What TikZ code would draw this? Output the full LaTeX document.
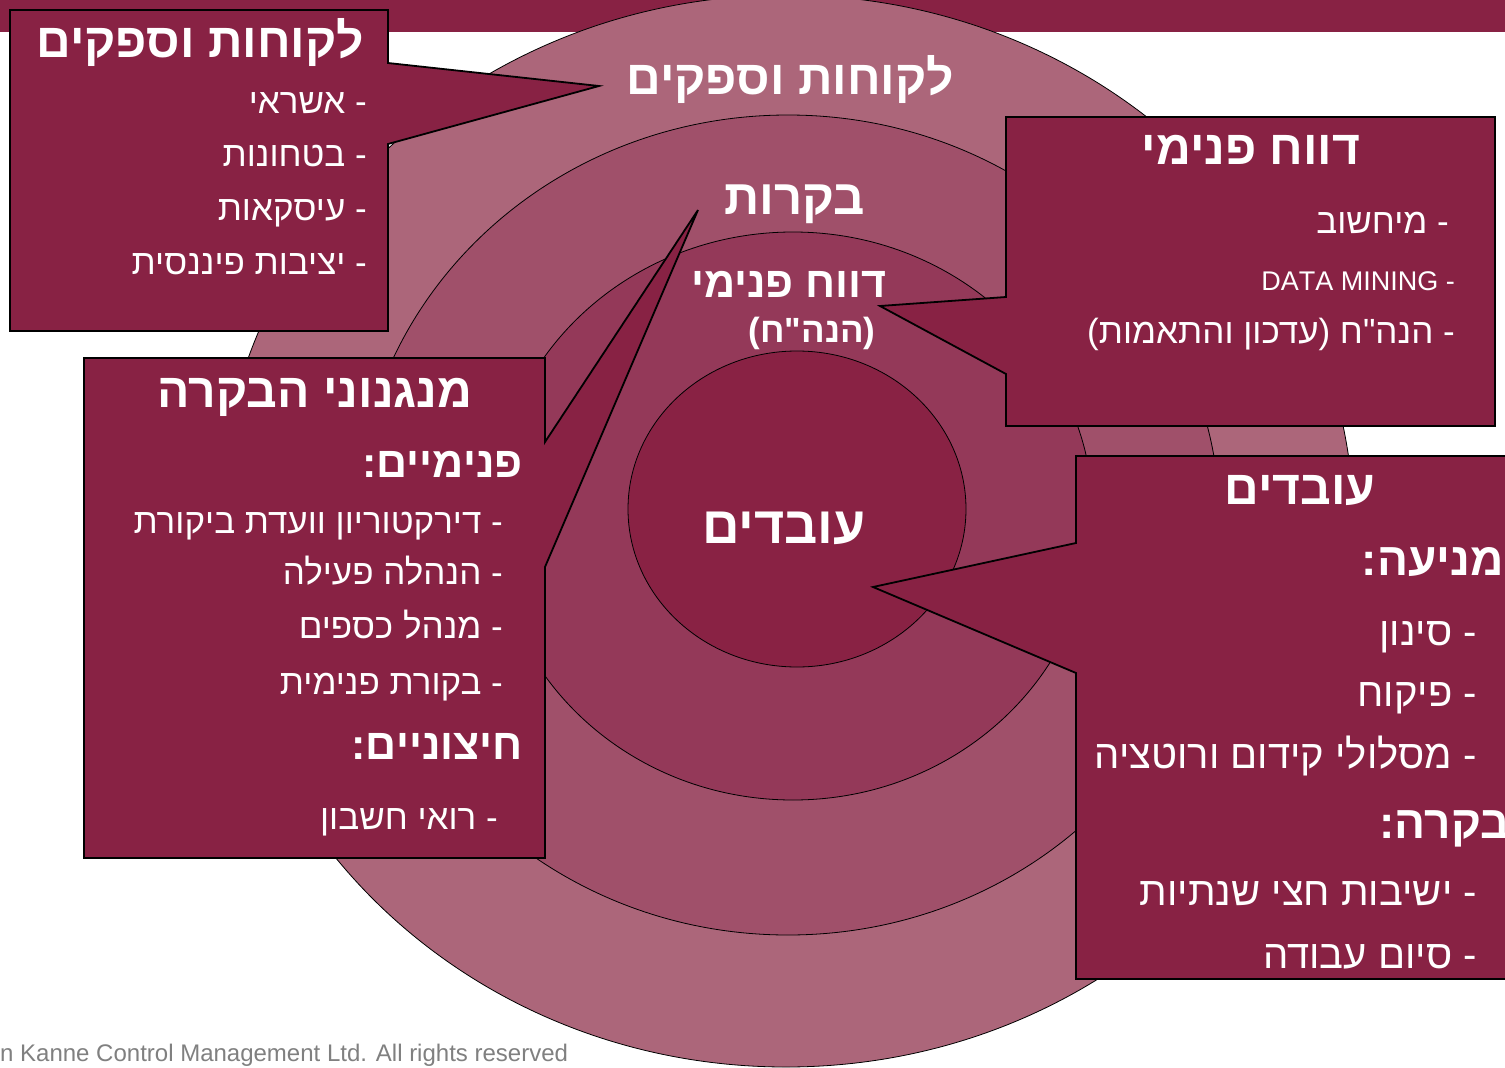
\documentclass[tikz,border=0pt]{standalone}
\usepackage{fontspec}
\setmainfont{Liberation Sans}
\newfontfamily\heb[Script=Hebrew]{Liberation Sans}
\TeXXeTstate=1
\newcommand\rtl[1]{\beginR #1\endR}
\definecolor{burg}{RGB}{136,34,68}
\definecolor{ringA}{RGB}{172,102,122}
\definecolor{ringB}{RGB}{160,80,106}
\definecolor{ringC}{RGB}{148,57,89}
\definecolor{ringD}{RGB}{137,34,68}
\definecolor{footgray}{RGB}{128,128,128}
\tikzset{
  ring/.style={draw=black, line width=0.8pt},
  callout/.style={fill=burg, draw=black, line width=1.8pt, line join=miter},
  itemtxt/.style={text=white, inner sep=0pt, anchor=base east, font=\heb\fontsize{35}{40}\selectfont},
  bigitemtxt/.style={itemtxt, font=\heb\fontsize{40}{44}\selectfont},
  subtxt/.style={text=white, inner sep=0pt, anchor=base east, font=\heb\bfseries\fontsize{43}{48}\selectfont},
  titletxt/.style={text=white, inner sep=0pt, anchor=base, font=\heb\bfseries\fontsize{48}{54}\selectfont},
  centertxt/.style={text=white, inner sep=0pt, anchor=base, font=\heb\bfseries\fontsize{48}{54}\selectfont},
}
\begin{document}
\begin{tikzpicture}[x=1pt,y=-1pt]
\useasboundingbox (0,0) rectangle (1505,1068);
\fill[white] (0,0) rectangle (1505,1068);
% top bar
\fill[burg] (0,0) rectangle (1505,32);
% rings
\filldraw[ring, fill=ringA] (786,531) ellipse [x radius=568, y radius=536];
\filldraw[ring, fill=ringB] (788,525) ellipse [x radius=432, y radius=410];
\filldraw[ring, fill=ringC] (793,516) ellipse [x radius=300, y radius=284];
\filldraw[ring, fill=ringD] (797,509) ellipse [x radius=169, y radius=158];
% ring labels
\node[centertxt] (lKlients) at (790,94) {\rtl{לקוחות וספקים}};
\node[centertxt, font=\heb\bfseries\fontsize{49}{54}\selectfont] (lControls) at (795,214) {\rtl{בקרות}};
\node[centertxt, font=\heb\bfseries\fontsize{43}{50}\selectfont] (lReport) at (789,297) {\rtl{דווח פנימי}};
\node[centertxt, font=\heb\bfseries\fontsize{35}{40}\selectfont] (lAcc) at (812,342) {\rtl{(הנה"ח)}};
\node[centertxt, font=\heb\bfseries\fontsize{52}{58}\selectfont] (lEmp) at (784,543) {\rtl{עובדים}};
% callout 1
\draw[callout] (10,10) -- (388,10) -- (388,63) -- (599,86) -- (388,144) -- (388,331) -- (10,331) -- cycle;
% callout 2
\draw[callout] (1006,117) -- (1495,117) -- (1495,426) -- (1006,426) -- (1006,374) -- (880,306) -- (1006,297) -- cycle;
% callout 3
\draw[callout] (84,358) -- (545,358) -- (545,442) -- (698,210) -- (545,567) -- (545,858) -- (84,858) -- cycle;
% callout 4
\draw[callout] (1076,456) -- (1540,456) -- (1540,979) -- (1076,979) -- (1076,673) -- (873,587) -- (1076,543) -- cycle;
% box 1 text
\node[titletxt] (t1) at (200,57) {\rtl{לקוחות וספקים}};
\node[itemtxt] (t1a) at (367,113) {\rtl{- אשראי}};
\node[itemtxt] (t1b) at (367,166) {\rtl{- בטחונות}};
\node[itemtxt] (t1c) at (367,220) {\rtl{- עיסקאות}};
\node[itemtxt] (t1d) at (367,274) {\rtl{- יציבות פיננסית}};
% box 2 text
\node[titletxt] (t2) at (1251,164) {\rtl{דווח פנימי}};
\node[itemtxt] (t2a) at (1449,233) {\rtl{- מיחשוב}};
\node[itemtxt, font=\heb\fontsize{27}{32}\selectfont] (t2b) at (1455,290) {\rtl{- \beginL DATA MINING\endL}};
\node[itemtxt] (t2c) at (1455,343) {\rtl{- הנה"ח (עדכון והתאמות)}};
% box 3 text
\node[titletxt] (t3) at (315,407) {\rtl{מנגנוני הבקרה}};
\node[subtxt] (t3s1) at (523,477) {\rtl{פנימיים:}};
\node[itemtxt] (t3a) at (503,533) {\rtl{- דירקטוריון וועדת ביקורת}};
\node[itemtxt] (t3b) at (503,584) {\rtl{- הנהלה פעילה}};
\node[itemtxt] (t3c) at (503,638) {\rtl{- מנהל כספים}};
\node[itemtxt] (t3d) at (503,694) {\rtl{- בקורת פנימית}};
\node[subtxt] (t3s2) at (523,759) {\rtl{חיצוניים:}};
\node[itemtxt] (t3e) at (498,829) {\rtl{- רואי חשבון}};
% box 4 text
\node[titletxt] (t4) at (1300,504) {\rtl{עובדים}};
\node[subtxt, font=\heb\bfseries\fontsize{46}{50}\selectfont] (t4s1) at (1504,575) {\rtl{מניעה:}};
\node[bigitemtxt] (t4a) at (1477,645) {\rtl{- סינון}};
\node[bigitemtxt] (t4b) at (1477,706) {\rtl{- פיקוח}};
\node[bigitemtxt] (t4c) at (1477,768) {\rtl{- מסלולי קידום ורוטציה}};
\node[subtxt, font=\heb\bfseries\fontsize{46}{50}\selectfont] (t4s2) at (1510,838) {\rtl{בקרה:}};
\node[bigitemtxt] (t4d) at (1477,905) {\rtl{- ישיבות חצי שנתיות}};
\node[bigitemtxt] (t4e) at (1477,968) {\rtl{- סיום עבודה}};
% footer
\node[anchor=base west, inner sep=0pt, text=footgray, font=\fontsize{24}{28}\selectfont] (foot) at (0,1061) {n Kanne Control Management Ltd. All rights reserved};
\end{tikzpicture}
\end{document}
